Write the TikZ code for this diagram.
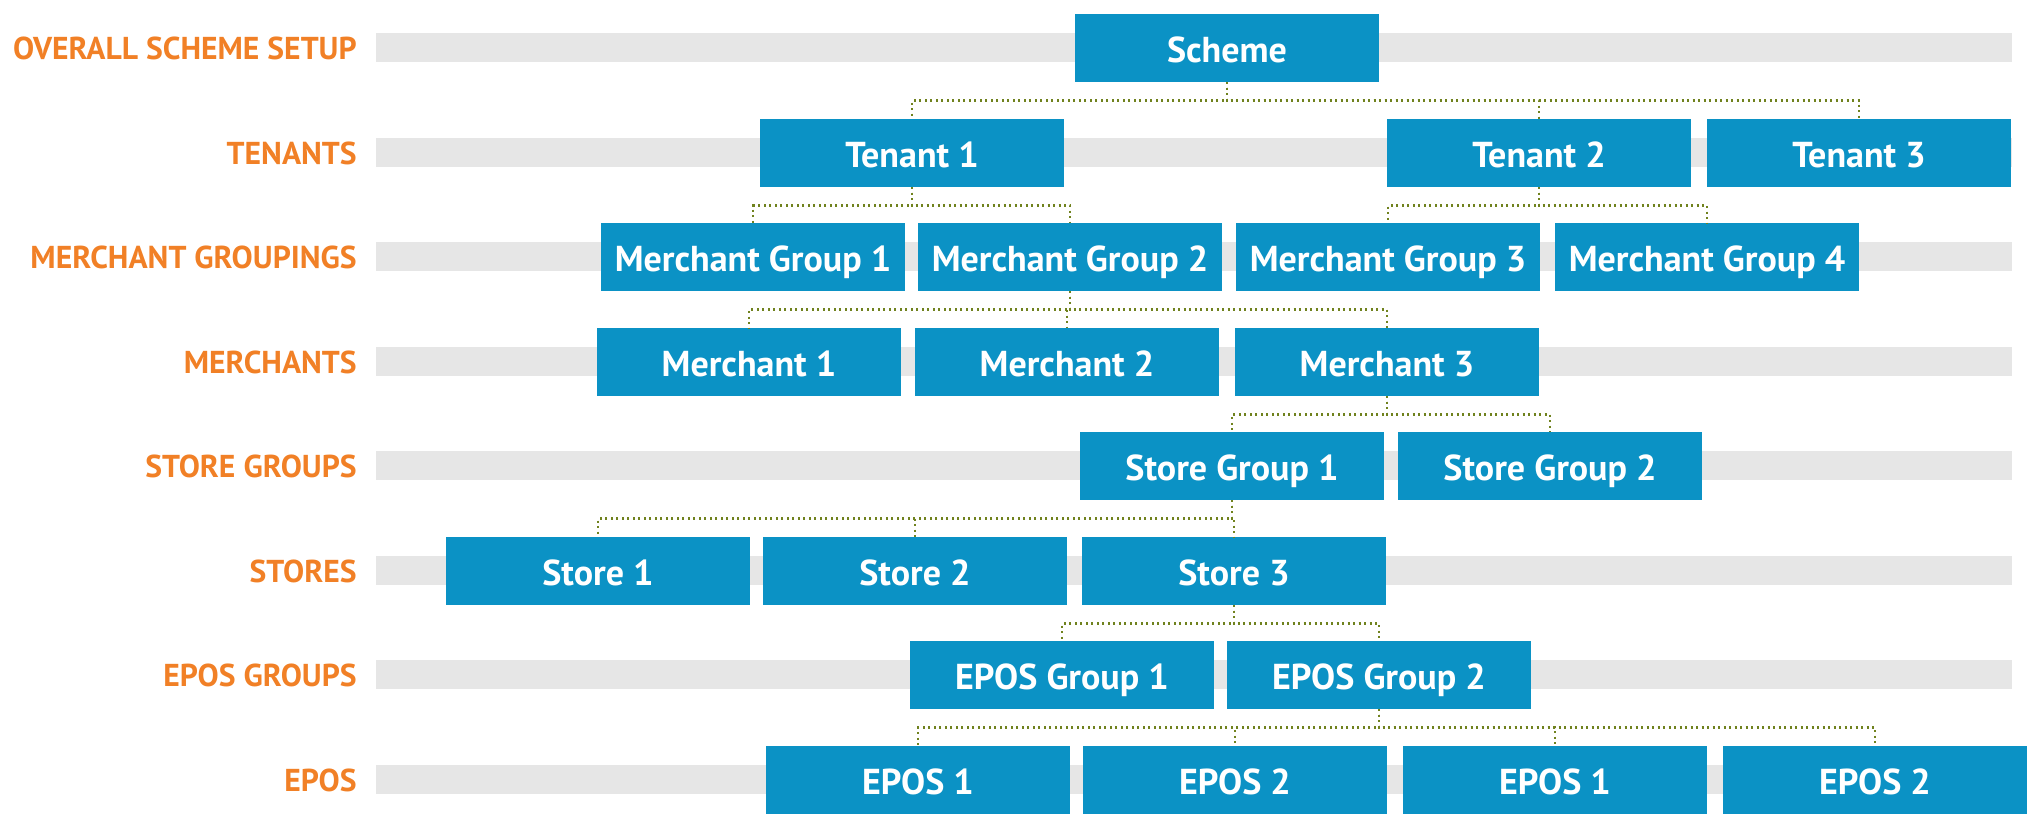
\documentclass[tikz,border=0pt]{standalone}
\usepackage{fontspec}
\setmainfont{PT Sans}
\usepackage{xcolor}
\usetikzlibrary{positioning}

\definecolor{boxblue}{RGB}{11,146,197}
\definecolor{lblorange}{RGB}{241,128,38}
\definecolor{bandgray}{RGB}{230,230,230}
\definecolor{linkgreen}{RGB}{112,130,30}

\begin{document}
\begin{tikzpicture}[
        x=0.2mm, y=0.2mm,
        unit/.style={rectangle, fill=boxblue, text=white, font=\fontsize{20.5}{24}\selectfont\bfseries, minimum width=60.8mm, minimum height=13.5mm, inner sep=0pt, text height=16pt, text depth=0pt, align=center},
        level/.style={anchor=east, text=lblorange, font=\fontsize{18}{21}\selectfont\bfseries, inner sep=0pt, text height=12.6pt, text depth=0pt},
        band/.style={fill=bandgray},
        link/.style={draw=linkgreen, line width=0.55mm, dash pattern=on 0.4mm off 0.7mm}
    ]
        \useasboundingbox (0,0) rectangle (2035,814);

        % Grey bands behind each level
        \foreach \y in {766,661,557,452,348,243,139,34} {
            \fill[band] (376,\y-14.5) rectangle (2012,\y+14.5);
        }

        % Level labels
        \node[level] (lblscheme) at (357,766) {OVERALL SCHEME SETUP};
        \node[level] (lbltenant) at (357,661) {TENANTS};
        \node[level] (lblmgroup) at (357,557) {MERCHANT GROUPINGS};
        \node[level] (lblmerchant) at (357,452) {MERCHANTS};
        \node[level] (lblsgroup) at (357,348) {STORE GROUPS};
        \node[level] (lblstore) at (357,243) {STORES};
        \node[level] (lblegroup) at (357,139) {EPOS GROUPS};
        \node[level] (lblepos) at (357,34) {EPOS};

        % Scheme
        \node[unit] (scheme) at (1227,766) {Scheme};

        % Tenants
        \node[unit] (tenant1) at (912,661) {Tenant 1};
        \node[unit] (tenant2) at (1539,661) {Tenant 2};
        \node[unit] (tenant3) at (1859,661) {Tenant 3};

        % Merchant groups
        \node[unit] (mgroup1) at (753,557) {Merchant Group 1};
        \node[unit] (mgroup2) at (1070,557) {Merchant Group 2};
        \node[unit] (mgroup3) at (1388,557) {Merchant Group 3};
        \node[unit] (mgroup4) at (1707,557) {Merchant Group 4};

        % Merchants
        \node[unit] (merchant1) at (749,452) {Merchant 1};
        \node[unit] (merchant2) at (1067,452) {Merchant 2};
        \node[unit] (merchant3) at (1387,452) {Merchant 3};

        % Store groups
        \node[unit] (sgroup1) at (1232,348) {Store Group 1};
        \node[unit] (sgroup2) at (1550,348) {Store Group 2};

        % Stores
        \node[unit] (store1) at (598,243) {Store 1};
        \node[unit] (store2) at (915,243) {Store 2};
        \node[unit] (store3) at (1234,243) {Store 3};

        % EPOS groups
        \node[unit] (egroup1) at (1062,139) {EPOS Group 1};
        \node[unit] (egroup2) at (1379,139) {EPOS Group 2};

        % EPOS
        \node[unit] (epos1) at (918,34) {EPOS 1};
        \node[unit] (epos2) at (1235,34) {EPOS 2};
        \node[unit] (epos3) at (1555,34) {EPOS 1};
        \node[unit] (epos4) at (1875,34) {EPOS 2};

        % Connections
        \draw[link] (scheme.south) -- ++(0,-18.5) -| (tenant1.north);
        \draw[link] (scheme.south) -- ++(0,-18.5) -| (tenant2.north);
        \draw[link] (scheme.south) -- ++(0,-18.5) -| (tenant3.north);

        \draw[link] (tenant1.south) -- ++(0,-18.5) -| (mgroup1.north);
        \draw[link] (tenant1.south) -- ++(0,-18.5) -| (mgroup2.north);
        \draw[link] (tenant2.south) -- ++(0,-18.5) -| (mgroup3.north);
        \draw[link] (tenant2.south) -- ++(0,-18.5) -| (mgroup4.north);

        \draw[link] (mgroup2.south) -- ++(0,-18.5) -| (merchant1.north);
        \draw[link] (mgroup2.south) -- ++(0,-18.5) -| (merchant2.north);
        \draw[link] (mgroup2.south) -- ++(0,-18.5) -| (merchant3.north);

        \draw[link] (merchant3.south) -- ++(0,-18.5) -| (sgroup1.north);
        \draw[link] (merchant3.south) -- ++(0,-18.5) -| (sgroup2.north);

        \draw[link] (sgroup1.south) -- ++(0,-18.5) -| (store1.north);
        \draw[link] (sgroup1.south) -- ++(0,-18.5) -| (store2.north);
        \draw[link] (sgroup1.south) -- ++(0,-18.5) -| (store3.north);

        \draw[link] (store3.south) -- ++(0,-18.5) -| (egroup1.north);
        \draw[link] (store3.south) -- ++(0,-18.5) -| (egroup2.north);

        \draw[link] (egroup2.south) -- ++(0,-18.5) -| (epos1.north);
        \draw[link] (egroup2.south) -- ++(0,-18.5) -| (epos2.north);
        \draw[link] (egroup2.south) -- ++(0,-18.5) -| (epos3.north);
        \draw[link] (egroup2.south) -- ++(0,-18.5) -| (epos4.north);
    \end{tikzpicture}
\end{document}
